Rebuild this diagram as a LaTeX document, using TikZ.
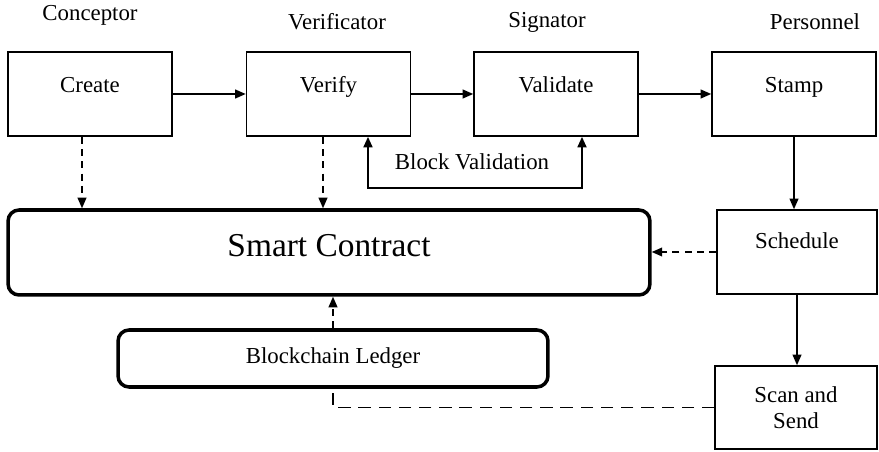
\documentclass[tikz,border=0pt]{standalone}
\usepackage{amsmath, amssymb}
\usepackage{fontspec}
\setmainfont{Liberation Serif}
\usepackage{tikz}
\usetikzlibrary{arrows.meta, positioning, calc}

\tikzset{
    box/.style={draw, line width=0.9pt, minimum width=3.28cm, minimum height=1.68cm},
    boxtxt/.style={yshift=4pt, text height=9pt, text depth=3pt},
    roundbox/.style={draw, line width=2pt, rounded corners=0.22cm},
    arr/.style={line width=0.9pt, -{Triangle[width=5pt, length=6pt]}},
    dasharr/.style={line width=0.9pt, dash pattern=on 4pt off 3pt, -{Triangle[width=5pt, length=6pt]}},
    dashline/.style={line width=1pt, dash pattern=on 7pt off 4.5pt},
}

\begin{document}
\begin{tikzpicture}[x=0.02cm, y=-0.02cm, font=\fontsize{13}{15}\selectfont]
    \useasboundingbox (0,0) rectangle (879,452);

    % roles
    \foreach \x/\y/\t/\n in {90/15/Conceptor/conceptor, 337/22/Verificator/verificator,
                             547/22/Signator/signator, 815/22/Personnel/personnel}{
        \node (\n) at (\x, \y) {\t};
    }

    % steps
    \node[box, label={[boxtxt]center:Create}] (create) at (90, 94) {};
    \node[box, label={[boxtxt]center:Verify}] (verify) at (328.5, 94) {};
    \node[box, label={[boxtxt]center:Validate}] (validate) at (556, 94) {};
    \node[box, label={[boxtxt]center:Stamp}] (stamp) at (794, 94) {};
    \node[box, minimum width=3.2cm, label={[boxtxt, yshift=1pt]center:Schedule}] (schedule) at (797, 252) {};
    \node[box, minimum width=3.24cm, minimum height=1.66cm, align=center] (scan) at (796, 407.5)
        {Scan and\\[0pt]Send};

    \node[roundbox, minimum width=12.84cm, minimum height=1.7cm,
        label={[yshift=4pt, font=\fontsize{19}{22}\selectfont]center:Smart Contract}]
        (contract) at (329, 252.5) {};
    \node[roundbox, minimum width=8.6cm, minimum height=1.14cm] (ledger) at (333, 358.5)
        {Blockchain Ledger};

    \node (bv) at (472, 162) {Block Validation};

    % flow
    \draw[arr] (create) -- (verify);
    \draw[arr] (verify) -- (validate);
    \draw[arr] (validate) -- (stamp);
    \draw[arr] (stamp.south) -- (stamp.south |- schedule.north);
    \draw[arr] (schedule.south) -- (schedule.south |- scan.north);
    \draw[line width=1.3pt, {Triangle[width=5pt, length=6pt]}-{Triangle[width=5pt, length=6pt]}]
        ([xshift=0.79cm]verify.south) -- ++(0, 51) -| ([xshift=0.52cm]validate.south);

    % contract links
    \draw[dasharr] ([xshift=-0.16cm]create.south) -- ([xshift=-0.16cm]create.south |- contract.north);
    \draw[dasharr] ([xshift=-0.11cm]verify.south) -- ([xshift=-0.11cm]verify.south |- contract.north);
    \draw[dasharr] (schedule.west) -- (schedule.west -| contract.east);
    \draw[dasharr] (ledger.north) -- (ledger.north |- contract.south);
    \draw[dashline] (scan.west) -| (ledger.south);
\end{tikzpicture}
\end{document}
